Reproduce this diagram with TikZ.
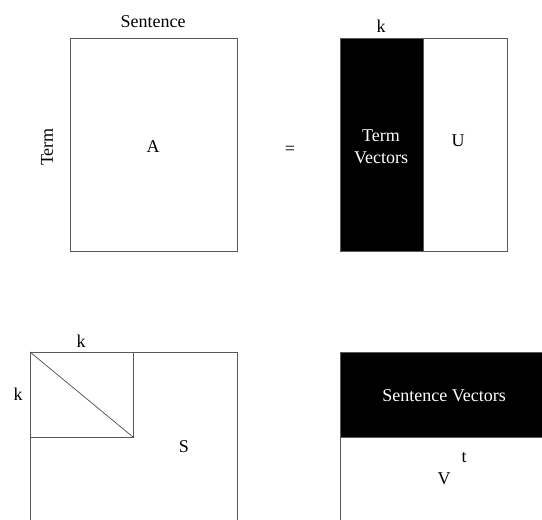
\documentclass[tikz,border=0pt]{standalone}
\usepackage{fontspec}
\setmainfont{Liberation Serif}
\begin{document}
\begin{tikzpicture}[x=1pt,y=-1pt,
  frame/.style={draw=black!65,line width=0.9pt},
  lbl/.style={font=\fontsize{18}{22}\selectfont,inner sep=0pt},
  wlbl/.style={lbl,text=white,align=center}]
\useasboundingbox (0,0) rectangle (542,520);
\clip (0,0) rectangle (542,520);
% A
\draw[frame] (70,38) rectangle (237,251);
\node[lbl] (sent) at (153,22) {Sentence};
\node[lbl,rotate=90] (term) at (47,147) {Term};
\node[lbl] (A) at (153,147) {A};
\node[lbl] (eq) at (290,150) {=};
% U
\fill[black] (340,38) rectangle (423,251);
\draw[frame] (340,38) rectangle (507,251);
\draw[frame] (423,38) -- (423,251);
\node[lbl] (k1) at (381,26) {k};
\node[wlbl] (tv) at (381,147) {Term\\Vectors};
\node[lbl] (U) at (458,141) {U};
% S
\draw[frame] (30,352) rectangle (237,540);
\draw[frame] (30,352) rectangle (133,437);
\draw[black!70,line width=0.7pt] (30,352) -- (133,437);
\node[lbl] (k2) at (81,341) {k};
\node[lbl] (k3) at (18,394) {k};
\node[lbl] (S) at (184,447) {S};
% V
\fill[black] (340,352) rectangle (560,437);
\draw[frame] (340,352) rectangle (560,540);
\draw[frame] (340,437) -- (560,437);
\node[wlbl] (sv) at (444,396) {Sentence Vectors};
\node[lbl] (V) at (444,479) {V};
\node[lbl] (t) at (464,458) {t};
\end{tikzpicture}
\end{document}
